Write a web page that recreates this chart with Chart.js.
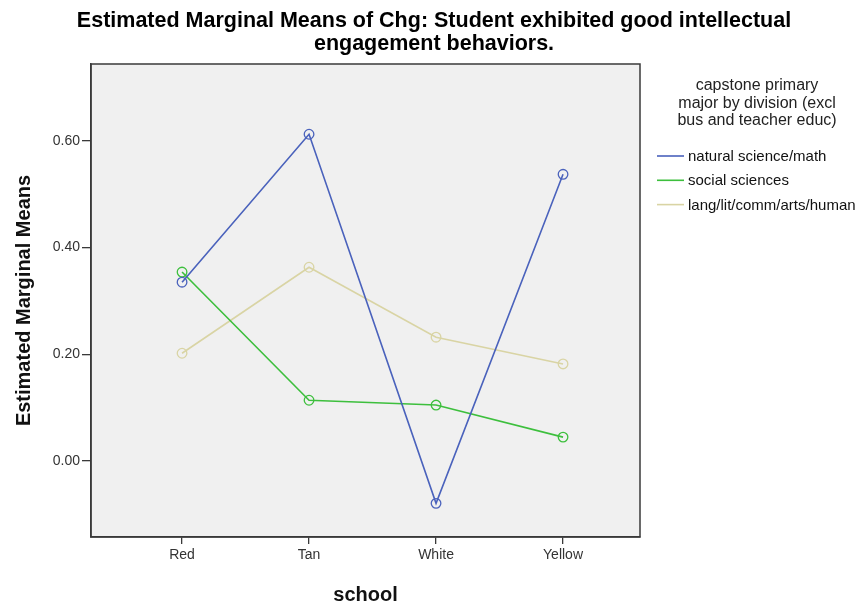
<!DOCTYPE html>
<html>
<head>
<meta charset="utf-8">
<script src="https://cdn.jsdelivr.net/npm/chart.js@4.4.0/dist/chart.umd.min.js"></script>
<style>
html,body{margin:0;padding:0;background:#fff;}
#wrap{width:859px;height:607px;}
</style>
</head>
<body>
<div id="wrap"><canvas id="c" width="859" height="607"></canvas></div>
<script>
const categories = ["Red", "Tan", "White", "Yellow"];
const naturalScience = [0.335, 0.612, -0.079, 0.537];
const socialSciences = [0.354, 0.114, 0.105, 0.045];
const langArts = [0.202, 0.363, 0.232, 0.182];
const seriesLabels = ["natural science/math", "social sciences", "lang/lit/comm/arts/human"];
const yTicks = [0.0, 0.2, 0.4, 0.6];
const titleLines = ["Estimated Marginal Means of Chg: Student exhibited good intellectual", "engagement behaviors."];
const legendTitle = ["capstone primary", "major by division (excl", "bus and teacher educ)"];

const colors = ["#4a62bc", "#3dbf3d", "#d9d4a4"];
const FONT = "'Liberation Sans', Arial, sans-serif";

function toPoints(arr){ return arr.map((v,i)=>({x:i, y:v})); }

const bgPlugin = {
  id:'bg',
  beforeDraw(chart){
    const {ctx, chartArea:a} = chart;
    ctx.save();
    ctx.fillStyle = '#f0f0f0';
    ctx.fillRect(a.left, a.top, a.right-a.left, a.bottom-a.top);
    ctx.restore();
  },
  afterDraw(chart){
    const {ctx, chartArea:a} = chart;
    ctx.save();
    ctx.strokeStyle = '#3a3a3a';
    ctx.lineWidth = 1.5;
    ctx.strokeRect(a.left, a.top, a.right-a.left, a.bottom-a.top);
    // title
    ctx.fillStyle = '#000';
    ctx.font = "bold 21.5px " + FONT;
    ctx.textAlign = 'center';
    ctx.textBaseline = 'middle';
    ctx.fillText(titleLines[0], 434, 21);
    ctx.fillText(titleLines[1], 434, 44);
    // legend
    ctx.font = "16px " + FONT;
    ctx.fillStyle = '#222';
    legendTitle.forEach((t,i)=>ctx.fillText(t, 757, 86 + i*17.5));
    ctx.font = "15px " + FONT;
    ctx.textAlign = 'left';
    chart.data.datasets.forEach((ds,i)=>{
      const y = 156 + i*24.3;
      ctx.strokeStyle = ds.borderColor;
      ctx.lineWidth = 1.6;
      ctx.beginPath(); ctx.moveTo(657,y); ctx.lineTo(684,y); ctx.stroke();
      ctx.fillStyle = '#111';
      ctx.fillText(ds.label, 688, y+1);
    });
    ctx.restore();
  }
};

const ds = [naturalScience, socialSciences, langArts].map((arr,i)=>({
  label: seriesLabels[i],
  data: toPoints(arr),
  borderColor: colors[i],
  backgroundColor: 'rgba(0,0,0,0)',
  borderWidth: 1.6,
  pointRadius: 4.8,
  pointBorderWidth: 1.3,
  pointBorderColor: colors[i],
  pointBackgroundColor: 'rgba(0,0,0,0)',
  tension: 0,
  showLine: true
}));

new Chart(document.getElementById('c'), {
  type: 'scatter',
  data: { datasets: ds },
  options: {
    responsive: false,
    animation: false,
    devicePixelRatio: 1,
    layout: { padding: { left: 0, top: 64, right: 219, bottom: 0 } },
    plugins: { legend: { display: false }, title: { display: false }, tooltip: { enabled: false } },
    scales: {
      x: {
        type: 'linear',
        min: -0.717,
        max: 3.606,
        afterBuildTicks(scale){ scale.ticks = categories.map((c,i)=>({value:i})); },
        afterFit(scale){ scale.height = 70; },
        ticks: {
          callback: (v)=>categories[v],
          font: { size: 14, family: FONT },
          color: '#333',
          padding: 3,
          maxRotation: 0,
          autoSkip: false
        },
        grid: { drawOnChartArea: false, drawTicks: true, tickLength: 7, color: '#3a3a3a', lineWidth: 1.3 },
        border: { display: true, color: '#3a3a3a', width: 1.5 },
        title: { display: true, text: 'school', font: { size: 20, weight: 'bold', family: FONT }, color: '#111', padding: { top: 0, bottom: 0 } }
      },
      y: {
        type: 'linear',
        min: -0.142,
        max: 0.7435,
        afterBuildTicks(scale){ scale.ticks = yTicks.map(v=>({value:v})); },
        afterFit(scale){ scale.width = 91; },
        ticks: {
          callback: (v)=>v.toFixed(2),
          font: { size: 14, family: FONT },
          color: '#333',
          padding: 2
        },
        grid: { drawOnChartArea: false, drawTicks: true, tickLength: 9, color: '#3a3a3a', lineWidth: 1.3 },
        border: { display: true, color: '#3a3a3a', width: 1.5 },
        title: { display: true, text: 'Estimated Marginal Means', font: { size: 20, weight: 'bold', family: FONT }, color: '#111', padding: { top: 12, bottom: 0 } }
      }
    }
  },
  plugins: [bgPlugin]
});
</script>
</body>
</html>
